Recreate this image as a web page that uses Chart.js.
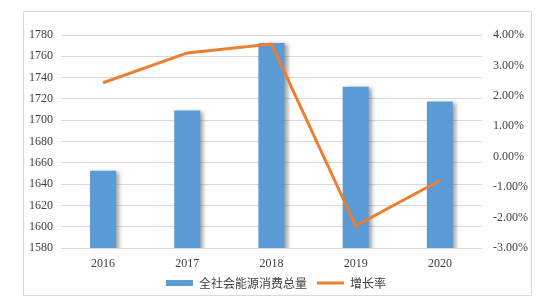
<!DOCTYPE html>
<html>
<head>
<meta charset="utf-8">
<script src="https://cdn.jsdelivr.net/npm/chart.js@4/dist/chart.umd.min.js"></script>
<style>
  body { margin: 0; background: #fff; }
  #frame { position: absolute; left: 23px; top: 11px; width: 507px; height: 283px; border: 1px solid #d9d9d9; }
  #c { position: absolute; left: 0; top: 0; }
</style>
</head>
<body>
<div id="frame"></div>
<canvas id="c" width="552" height="302"></canvas>
<script>
const years = ['2016', '2017', '2018', '2019', '2020'];
const energyTotal = [1652.5, 1709, 1772.5, 1731.5, 1717.5];
const growthRate = [2.43, 3.41, 3.70, -2.27, -0.78]; // percent

const serif = "'Liberation Serif', 'Times New Roman', serif";
const sans = "'Noto Sans CJK SC', 'Noto Sans', sans-serif";

// soft shadow on the bars, like the Excel original
const barShadow = {
  id: 'barShadow',
  beforeDatasetDraw(chart, args) {
    if (args.index !== 0) return;
    const ctx = chart.ctx;
    ctx.save();
    ctx.shadowColor = 'rgba(0,0,0,0.35)';
    ctx.shadowOffsetX = 3;
    ctx.shadowOffsetY = 1;
    ctx.shadowBlur = 4;
  },
  afterDatasetDraw(chart, args) {
    if (args.index !== 0) return;
    chart.ctx.restore();
  }
};

new Chart(document.getElementById('c').getContext('2d'), {
  type: 'bar',
  data: {
    labels: years,
    datasets: [
      {
        label: '全社会能源消费总量',
        data: energyTotal,
        backgroundColor: '#5B9BD5',
        borderWidth: 0,
        barPercentage: 0.31,
        categoryPercentage: 1,
        pointStyle: 'rect',
        yAxisID: 'y',
        order: 1
      },
      {
        type: 'line',
        label: '增长率',
        data: growthRate,
        borderColor: '#ED7D31',
        backgroundColor: '#ED7D31',
        borderWidth: 3,
        pointRadius: 0,
        pointStyle: 'line',
        tension: 0,
        yAxisID: 'y1',
        order: 0
      }
    ]
  },
  options: {
    responsive: false,
    animation: false,
    layout: { padding: { top: 35, left: 0, right: 0, bottom: 3 } },
    plugins: {
      legend: {
        position: 'bottom',
        labels: {
          usePointStyle: true,
          pointStyleWidth: 27,
          boxHeight: 6,
          padding: 10,
          color: '#404040',
          font: { family: sans, size: 12 },
          sort: (a, b) => a.datasetIndex - b.datasetIndex
        }
      },
      tooltip: { enabled: false }
    },
    scales: {
      x: {
        grid: { display: false },
        border: { display: false },
        ticks: { color: '#404040', padding: 1, font: { family: serif, size: 12 } },
        afterFit(s) { s.height = 19; }
      },
      y: {
        position: 'left',
        min: 1580,
        max: 1780,
        ticks: {
          stepSize: 20,
          color: '#404040',
          padding: 8,
          font: { family: serif, size: 12 },
          callback: v => String(v)
        },
        grid: { color: '#d9d9d9', drawTicks: false },
        border: { display: false },
        afterFit(s) { s.width = 61; }
      },
      y1: {
        position: 'right',
        min: -3,
        max: 4,
        ticks: {
          stepSize: 1,
          color: '#404040',
          padding: 11,
          font: { family: serif, size: 12 },
          callback: v => v.toFixed(2) + '%'
        },
        grid: { display: false, drawTicks: false },
        border: { display: false },
        afterFit(s) { s.width = 70; }
      }
    }
  },
  plugins: [barShadow]
});
</script>
</body>
</html>
